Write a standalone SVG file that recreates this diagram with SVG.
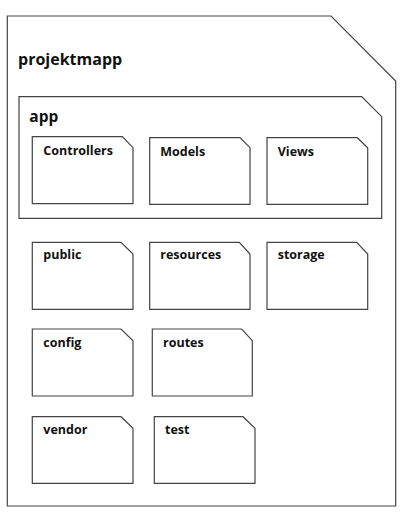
<svg xmlns="http://www.w3.org/2000/svg" width="410" height="524" viewBox="0 0 410 524">
<style>
.f{fill:#fff;stroke:#444;stroke-width:1.2;stroke-linejoin:miter}
.t{font-family:"Open Sans","DejaVu Sans",sans-serif;font-weight:bold;fill:#111}
.big{font-size:16px}
.mid{font-size:15.5px}
.sm{font-size:12.5px}
</style>
<rect width="410" height="524" fill="#fff"/>
<g id="projektmapp">
<path class="f" d="M7.3,16 H331 L395.7,81 V506 H7.3 Z"/>
<text class="t big" x="18" y="65">projektmapp</text>
</g>
<g id="app">
<path class="f" d="M19,96.7 H361.7 L381.7,116.7 V218.3 H19 Z"/>
<text class="t mid" x="29.3" y="121.7">app</text>
</g>
<g id="controllers">
<path class="f" d="M32.3,136.7 H122.3 L133,147.7 V203.7 H32.3 Z"/>
<text class="t sm" x="43.3" y="155">Controllers</text>
</g>
<g id="models">
<path class="f" d="M149.7,137.7 H240 L250,147.7 V204.3 H149.7 Z"/>
<text class="t sm" x="160.3" y="156">Models</text>
</g>
<g id="views">
<path class="f" d="M267,137.7 H357.3 L367.7,147.7 V204.3 H267 Z"/>
<text class="t sm" x="277.7" y="156">Views</text>
</g>
<g id="public">
<path class="f" d="M32.3,242.3 H121 L133,254 V309.3 H32.3 Z"/>
<text class="t sm" x="43.3" y="259.3">public</text>
</g>
<g id="resources">
<path class="f" d="M149.7,242.3 H239.3 L250,254 V309.3 H149.7 Z"/>
<text class="t sm" x="160.3" y="259.3">resources</text>
</g>
<g id="storage">
<path class="f" d="M267,242.3 H356.7 L367.7,254 V309.3 H267 Z"/>
<text class="t sm" x="277.7" y="259.3">storage</text>
</g>
<g id="config">
<path class="f" d="M32.3,329 H121 L133,340.7 V396 H32.3 Z"/>
<text class="t sm" x="43.3" y="346.5">config</text>
</g>
<g id="routes">
<path class="f" d="M152.3,329 H241.7 L252.3,340.7 V396 H152.3 Z"/>
<text class="t sm" x="163" y="346.5">routes</text>
</g>
<g id="vendor">
<path class="f" d="M32.3,416.7 H121 L133,428.3 V483.3 H32.3 Z"/>
<text class="t sm" x="43.3" y="434">vendor</text>
</g>
<g id="test">
<path class="f" d="M154.3,416.7 H243 L255,428.3 V483.3 H154.3 Z"/>
<text class="t sm" x="165" y="434">test</text>
</g>
<g id="connectors"></g>
</svg>
